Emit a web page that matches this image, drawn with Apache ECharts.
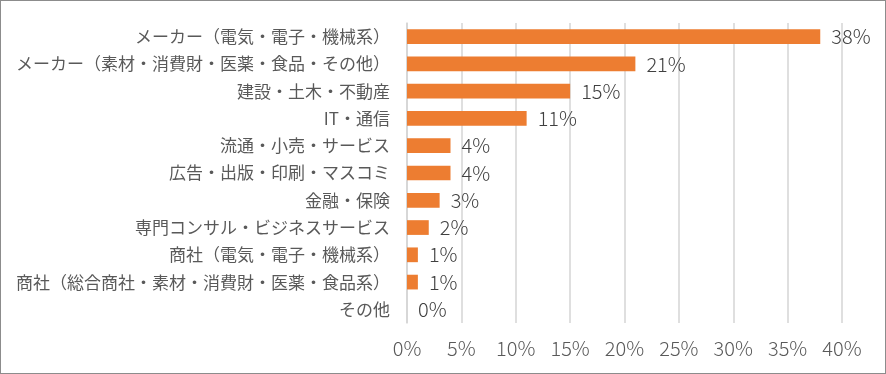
<!DOCTYPE html>
<html><head><meta charset="utf-8">
<script src="https://cdn.jsdelivr.net/npm/echarts@6/dist/echarts.min.js"></script>
<style>
html,body{margin:0;padding:0;background:#fff;}
#c{width:886px;height:374px;box-sizing:border-box;border:1px solid #8c8c8c;}
</style></head>
<body><div id="c"></div>
<script>
const categories = [
  "メーカー（電気・電子・機械系）",
  "メーカー（素材・消費財・医薬・食品・その他）",
  "建設・土木・不動産",
  "IT・通信",
  "流通・小売・サービス",
  "広告・出版・印刷・マスコミ",
  "金融・保険",
  "専門コンサル・ビジネスサービス",
  "商社（電気・電子・機械系）",
  "商社（総合商社・素材・消費財・医薬・食品系）",
  "その他"
];
const values = [38, 21, 15, 11, 4, 4, 3, 2, 1, 1, 0];
const xTicks = [0, 5, 10, 15, 20, 25, 30, 35, 40];

const chart = echarts.init(document.getElementById('c'));
const font = '"Noto Sans CJK JP", "Noto Sans", sans-serif';
chart.setOption({
  animation: false,
  grid: { left: 406, right: 43, top: 22, bottom: 50, containLabel: false },
  xAxis: {
    type: 'value', min: xTicks[0], max: xTicks[xTicks.length - 1], interval: 5,
    axisLine: { show: false }, axisTick: { show: false },
    splitLine: { show: true, lineStyle: { color: '#d4d4d4', width: 1.5 } },
    axisLabel: { formatter: '{value}%', color: '#595959', fontSize: 20, fontWeight: 300, fontFamily: font, margin: 15 }
  },
  yAxis: {
    type: 'category', data: categories, inverse: true,
    axisLine: { show: true, lineStyle: { color: '#d4d4d4', width: 1.5 } },
    axisTick: { show: false },
    axisLabel: { color: '#595959', fontSize: 17, fontFamily: font, margin: 17 }
  },
  series: [{
    type: 'bar', data: values, barWidth: '54%',
    itemStyle: { color: '#ED7D31' },
    label: { show: true, position: 'right', distance: 11, formatter: '{c}%', color: '#404040', fontSize: 20, fontWeight: 300, fontFamily: font }
  }]
});
</script></body></html>
